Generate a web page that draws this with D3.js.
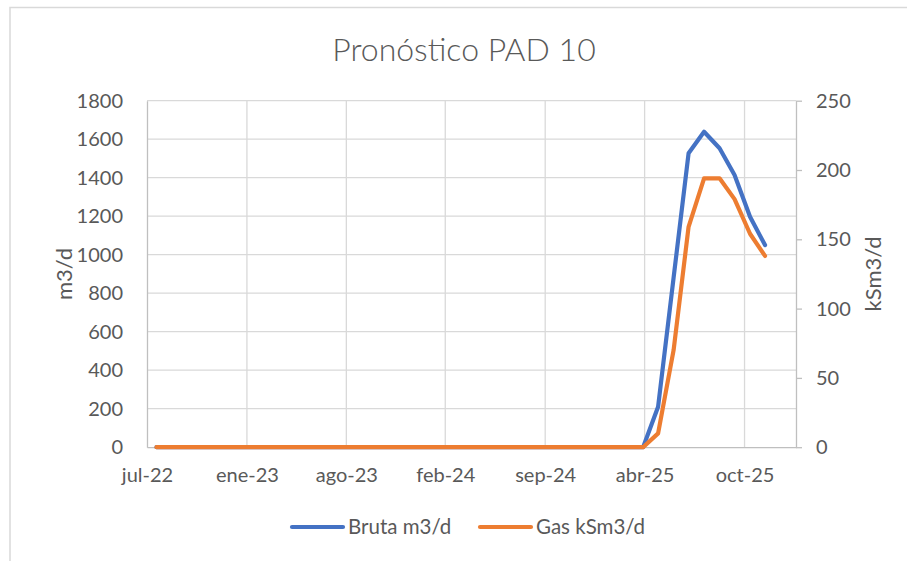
<!DOCTYPE html>
<html><head><meta charset="utf-8">
<script src="https://cdn.jsdelivr.net/npm/d3@7"></script>
<style>
html,body{margin:0;padding:0;background:#fff;}
svg{display:block;font-family:Lato,"Open Sans",sans-serif;}
</style></head>
<body><svg id="c" width="907" height="561"></svg>
<script>
const months = ["2022-07","2022-08","2022-09","2022-10","2022-11","2022-12",
"2023-01","2023-02","2023-03","2023-04","2023-05","2023-06","2023-07","2023-08","2023-09","2023-10","2023-11","2023-12",
"2024-01","2024-02","2024-03","2024-04","2024-05","2024-06","2024-07","2024-08","2024-09","2024-10","2024-11","2024-12",
"2025-01","2025-02","2025-03","2025-04","2025-05","2025-06","2025-07","2025-08","2025-09","2025-10","2025-11"];
const bruta = [0,0,0,0,0,0, 0,0,0,0,0,0,0,0,0,0,0,0, 0,0,0,0,0,0,0,0,0,0,0,0, 0,0,0,210,880,1527,1639,1553,1414,1197,1050];
const gas   = [0,0,0,0,0,0, 0,0,0,0,0,0,0,0,0,0,0,0, 0,0,0,0,0,0,0,0,0,0,0,0, 0,0,0,10,70,159,194,194,179,154,138];
const xTickDates = ["2022-07-12","2023-01-28","2023-08-15","2024-02-29","2024-09-16","2025-04-03","2025-10-20"];
const xTickLabels = ["jul-22","ene-23","ago-23","feb-24","sep-24","abr-25","oct-25"];
const xDomain = ["2022-07-12","2026-01-31"];
const leftTicks = [0,200,400,600,800,1000,1200,1400,1600,1800];
const rightTicks = [0,50,100,150,200,250];
const seriesNames = ["Bruta m3/d","Gas kSm3/d"];
const colors = ["#4472C4","#ED7D31"];

const parseDay = d3.timeParse("%Y-%m-%d");
const parseMonth = d3.timeParse("%Y-%m");
const dates = months.map(m => d3.timeDay.offset(d3.timeMonth.offset(parseMonth(m),1),-1));

const svg = d3.select("#c");
const L = 147, R = 796, T = 100.7, B = 447.2;
const x = d3.scaleTime().domain(xDomain.map(parseDay)).range([L,R]);
const yL = d3.scaleLinear().domain([0,1800]).range([B,T]);
const yR = d3.scaleLinear().domain([0,250]).range([B,T]);
const txt = "#595959", grid = "#d9d9d9", axc = "#bfbfbf";
const fs = 20;

// chart border
svg.append("rect").attr("x",10).attr("y",7.5).attr("width",920).attr("height",580)
  .attr("fill","none").attr("stroke",grid).attr("stroke-width",1.5);

// title
svg.append("text").attr("x",464).attr("y",61).attr("text-anchor","middle")
  .attr("font-size",32).attr("fill",txt).attr("font-weight",300).text("Pronóstico PAD 10");

// horizontal gridlines
svg.append("g").selectAll("line").data(leftTicks.filter(d=>d>0)).join("line")
  .attr("x1",L).attr("x2",R).attr("y1",d=>yL(d)).attr("y2",d=>yL(d))
  .attr("stroke",grid).attr("stroke-width",1.3);
// vertical gridlines
svg.append("g").selectAll("line").data(xTickDates.slice(1)).join("line")
  .attr("x1",d=>x(parseDay(d))).attr("x2",d=>x(parseDay(d))).attr("y1",T).attr("y2",B)
  .attr("stroke",grid).attr("stroke-width",1.3);

// left axis
const gl = svg.append("g").attr("transform",`translate(${L},0)`)
  .call(d3.axisLeft(yL).tickValues(leftTicks).tickFormat(d3.format("d")).tickSize(0).tickPadding(24));
gl.select(".domain").attr("stroke",axc).attr("stroke-width",1.3);
gl.selectAll("text").attr("font-size",fs).attr("fill",txt).attr("font-family","Lato");

// right axis
const gr = svg.append("g").attr("transform",`translate(${R},0)`)
  .call(d3.axisRight(yR).tickValues(rightTicks).tickSizeInner(6).tickSizeOuter(0).tickPadding(14));
gr.select(".domain").attr("stroke",axc).attr("stroke-width",1.3);
gr.selectAll("line").attr("stroke",axc).attr("stroke-width",1.3);
gr.selectAll("text").attr("font-size",fs).attr("fill",txt).attr("font-family","Lato");

// bottom axis
const gb = svg.append("g").attr("transform",`translate(0,${B})`)
  .call(d3.axisBottom(x).tickValues(xTickDates.map(parseDay)).tickSize(0).tickPadding(21)
    .tickFormat((d,i)=>xTickLabels[i]));
gb.select(".domain").attr("stroke",axc).attr("stroke-width",1.3);
gb.selectAll("text").attr("font-size",fs).attr("fill",txt).attr("font-family","Lato");

// axis titles
svg.append("text").attr("transform",`translate(72,274) rotate(-90)`).attr("text-anchor","middle")
  .attr("font-size",22).attr("fill",txt).text("m3/d");
svg.append("text").attr("transform",`translate(881,274) rotate(-90)`).attr("text-anchor","middle")
  .attr("font-size",22).attr("fill",txt).text("kSm3/d");

// lines
const lineL = d3.line().x((d,i)=>x(dates[i])).y(d=>yL(d));
const lineR = d3.line().x((d,i)=>x(dates[i])).y(d=>yR(d));
svg.append("path").datum(bruta).attr("d",lineL).attr("fill","none").attr("stroke",colors[0])
  .attr("stroke-width",4.2).attr("stroke-linejoin","round").attr("stroke-linecap","round");
svg.append("path").datum(gas).attr("d",lineR).attr("fill","none").attr("stroke",colors[1])
  .attr("stroke-width",4.2).attr("stroke-linejoin","round").attr("stroke-linecap","round");

// legend
const legX = [292,480];
const lg = svg.append("g");
seriesNames.forEach((n,i)=>{
  lg.append("line").attr("x1",legX[i]).attr("x2",legX[i]+51).attr("y1",527).attr("y2",527)
    .attr("stroke",colors[i]).attr("stroke-width",4.2).attr("stroke-linecap","round");
  lg.append("text").attr("x",legX[i]+56).attr("y",534).attr("font-size",20.5).attr("fill",txt).text(n);
});
</script></body></html>
